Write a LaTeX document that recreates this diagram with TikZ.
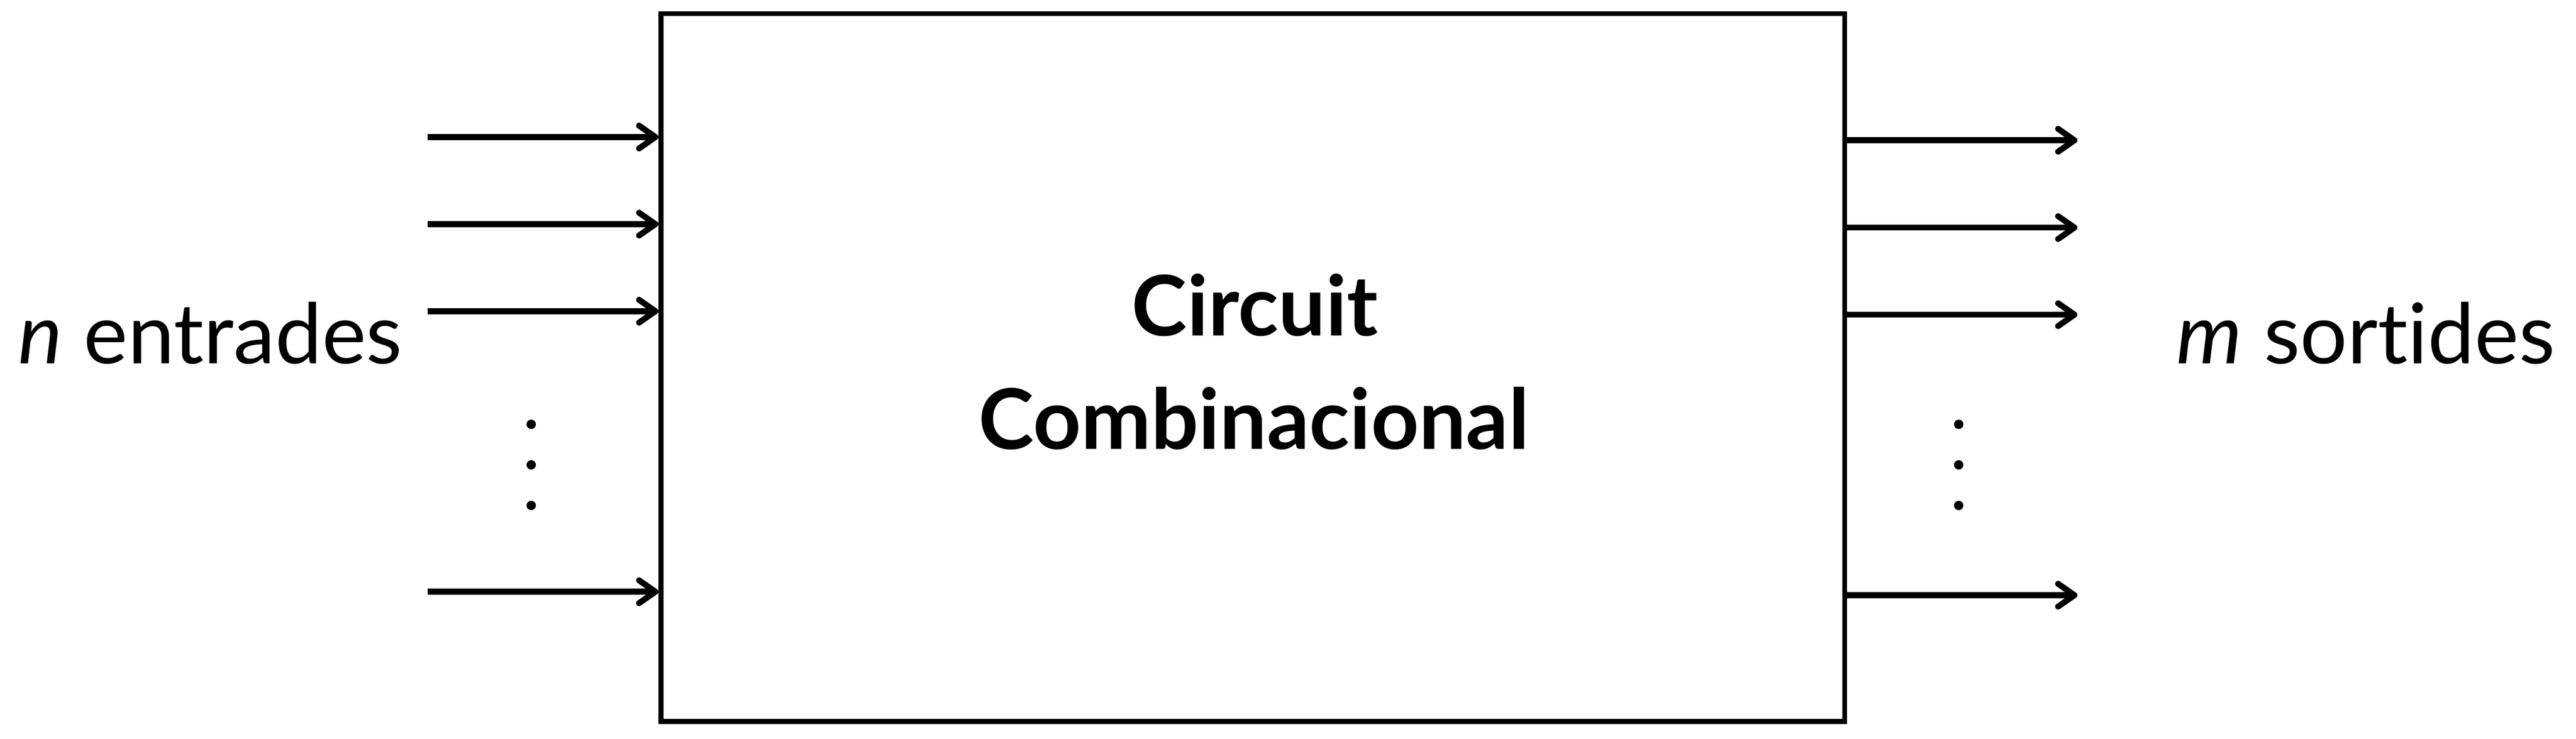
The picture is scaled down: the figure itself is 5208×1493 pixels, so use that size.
\documentclass[tikz,border=0pt]{standalone}
\usepackage{fontspec}
\setmainfont{Lato}[Ligatures={NoCommon}]
\usetikzlibrary{arrows.meta}
\begin{document}
\begin{tikzpicture}[x=0.1pt,y=-0.1pt,
  boxstyle/.style={draw=black,line width=1pt,rectangle,inner sep=0pt,
    minimum width=239.35pt,minimum height=143.05pt},
  arr/.style={draw=black,line width=1.2pt,-{Straight Barb[length=3.3pt,width=4.6pt,round]}},
  lbl/.style={anchor=base,inner sep=0pt,font=\fontsize{16.9pt}{22.9pt}\selectfont},
  ttl/.style={anchor=base,inner sep=0pt,font=\fontsize{16.9pt}{22.9pt}\selectfont\bfseries},
  dotstyle/.style={fill=black}]
\useasboundingbox (0,0) rectangle (5208,1493);
\node[boxstyle] (box) at (2532.75,742.75) {};
\node[ttl] (t1) at (2537,679) {Circuit};
\node[ttl] (t2) at (2535,908) {Combinacional};
\node[lbl] (lin) at (425,735) {\textit{n} entrades};
\node[lbl] (lout) at (4783,735) {\textit{m} sortides};
% inputs
\coordinate (i1) at (865,277);
\coordinate (i2) at (865,453);
\coordinate (i3) at (865,629);
\coordinate (i4) at (865,1196);
\foreach \c in {i1,i2,i3,i4}{\draw[arr] (\c) -- (\c -| box.west);}
% outputs
\coordinate (o1) at (4200,283.5);
\coordinate (o2) at (4200,460);
\coordinate (o3) at (4200,636);
\coordinate (o4) at (4200,1203);
\foreach \c in {o1,o2,o3,o4}{\draw[arr] (\c -| box.east) -- (\c);}
% dots
\foreach \y in {857.6,939.6,1021.6}{
  \fill[dotstyle] (1074,\y) circle[radius=0.95pt];
  \fill[dotstyle] (3960,\y) circle[radius=0.95pt];
}
\end{tikzpicture}
\end{document}
